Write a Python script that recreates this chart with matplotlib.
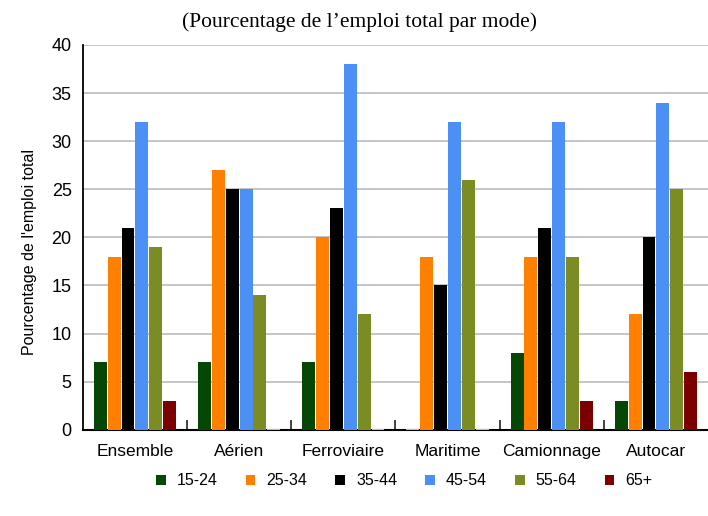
import matplotlib
matplotlib.use("Agg")
import matplotlib.pyplot as plt
import numpy as np
from matplotlib.patches import Patch

categories = ["Ensemble", "Aérien", "Ferroviaire", "Maritime", "Camionnage", "Autocar"]
series_names = ["15-24", "25-34", "35-44", "45-54", "55-64", "65+"]
v_15_24 = [7, 7, 7, 0, 8, 3]
v_25_34 = [18, 27, 20, 18, 18, 12]
v_35_44 = [21, 25, 23, 15, 21, 20]
v_45_54 = [32, 25, 38, 32, 32, 34]
v_55_64 = [19, 14, 12, 26, 18, 25]
v_65p = [3, 0, 0, 0, 3, 6]
series_values = [v_15_24, v_25_34, v_35_44, v_45_54, v_55_64, v_65p]
colors = ["#054805", "#ff8000", "#000000", "#4a90f5", "#7c8c25", "#7d0000"]
yticks = [0, 5, 10, 15, 20, 25, 30, 35, 40]

plt.rcParams['font.family'] = ['Liberation Sans', 'DejaVu Sans']

fig = plt.figure(figsize=(7.08, 5.16), dpi=100)
ax = fig.add_axes([0.117, 0.167, 0.883, 0.746])

x = np.arange(len(categories))
pitch = 0.133
width = 0.124
for i, (name, vals, c) in enumerate(zip(series_names, series_values, colors)):
    offs = (i - 2.5) * pitch
    for xi, v in zip(x, vals):
        if v == 0:
            ax.bar(xi + offs, 0.12, width=width, color="#bbbbbb", linewidth=0, zorder=3)
        else:
            ax.bar(xi + offs, v, width=width, color=c, linewidth=0, zorder=3)

ax.set_xlim(-0.5, len(categories) - 0.5)
ax.set_ylim(0, 40)
ax.set_yticks(yticks)
ax.yaxis.grid(True, color="#bbbbbb", linewidth=1.2, zorder=0)
ax.set_axisbelow(True)
ax.set_xticks(x)
ax.set_xticklabels(categories, fontsize=12.5)
ax.tick_params(axis='x', which='major', length=0, pad=10)
ax.set_xticks(np.arange(0.5, len(categories) - 0.5, 1.0), minor=True)
ax.tick_params(axis='x', which='minor', direction='in', length=7, width=1.2, color="#222222")
ax.tick_params(axis='y', length=0, labelsize=13, pad=8)
for s in ["top", "right"]:
    ax.spines[s].set_visible(False)
ax.spines["left"].set_linewidth(1.3)
ax.spines["bottom"].set_linewidth(1.5)
ax.set_ylabel("Pourcentage de l'emploi total", fontsize=11.5)
ax.yaxis.set_label_coords(-0.073, 0.462)

fig.text(0.508, 0.958, "(Pourcentage de l\u2019emploi total par mode)", ha="center", va="center",
         fontsize=15.5, family=["Liberation Serif", "DejaVu Serif"])

handles = [Patch(facecolor=c, edgecolor='none') for c in colors]
fig.legend(handles, series_names, loc="center", bbox_to_anchor=(0.571, 0.068), ncol=6,
           frameon=False, fontsize=11.5, handlelength=0.6, handleheight=0.6,
           columnspacing=1.75, handletextpad=0.7)

fig.savefig("out.png", dpi=100)
